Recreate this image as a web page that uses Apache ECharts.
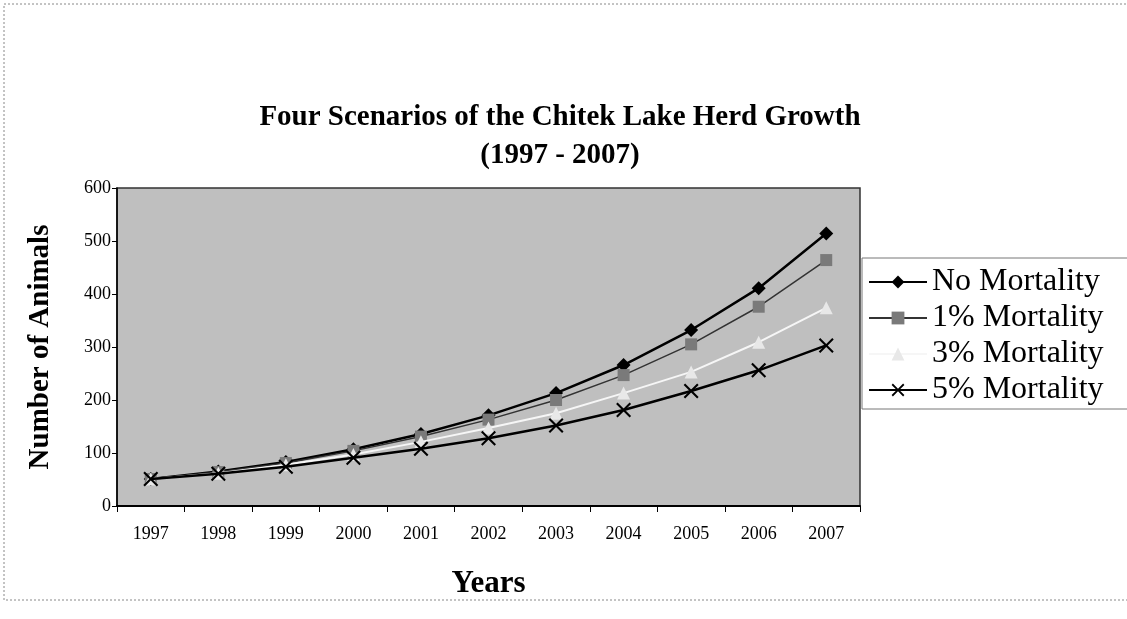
<!DOCTYPE html>
<html>
<head>
<meta charset="utf-8">
<script src="https://cdn.jsdelivr.net/npm/echarts@6/dist/echarts.min.js"></script>
<style>
html,body{margin:0;padding:0;background:#fff;}
#c{width:1127px;height:619px;}
</style>
</head>
<body>
<div id="c"></div>
<script>
const years = ['1997','1998','1999','2000','2001','2002','2003','2004','2005','2006','2007'];
const noMortality = [51, 65, 83, 107, 136, 171, 213, 266, 332, 411, 514];
const mortality1 = [51, 64, 81, 104, 131, 163, 200, 247, 305, 376, 464];
const mortality3 = [51, 62, 78, 97, 121, 147, 175, 213, 253, 309, 374];
const mortality5 = [51, 61, 74, 91, 108, 128, 152, 181, 217, 256, 303];
const seriesNames = ['No Mortality', '1% Mortality', '3% Mortality', '5% Mortality'];

const serif = '"Liberation Serif", "Times New Roman", serif';
const xMark = 'path://M0,1 L1,0 L5,4 L9,0 L10,1 L6,5 L10,9 L9,10 L5,6 L1,10 L0,9 L4,5 Z';

const chart = echarts.init(document.getElementById('c'), null, {renderer: 'canvas'});
chart.setOption({
  backgroundColor: '#fff',
  animation: false,
  title: {
    text: 'Four Scenarios of the Chitek Lake Herd Growth\n(1997 - 2007)',
    left: 555, top: 94, textAlign: 'center',
    textStyle: {fontFamily: serif, fontWeight: 'bold', fontSize: 29, lineHeight: 38, color: '#000'}
  },
  legend: {
    orient: 'vertical',
    left: 862, top: 258,
    data: seriesNames,
    itemWidth: 58, itemHeight: 16, itemGap: 4,
    padding: [8, 40, 3, 6],
    borderColor: '#777', borderWidth: 1,
    backgroundColor: '#fff',
    textStyle: {fontFamily: serif, fontSize: 32, color: '#000'}
  },
  grid: {
    left: 117, right: 267, top: 188, bottom: 113,
    show: true, backgroundColor: '#bfbfbf', borderColor: '#333', borderWidth: 1.5
  },
  xAxis: {
    type: 'category', data: years, boundaryGap: true,
    name: 'Years', nameLocation: 'middle', nameGap: 62,
    nameTextStyle: {fontFamily: serif, fontWeight: 'bold', fontSize: 31, color: '#000'},
    axisLine: {lineStyle: {color: '#000', width: 2}},
    axisTick: {show: true, inside: false, length: 6, alignWithLabel: false, lineStyle: {color: '#000'}},
    axisLabel: {fontFamily: serif, fontSize: 18, color: '#000', margin: 19}
  },
  yAxis: {
    type: 'value', min: 0, max: 600, interval: 100,
    name: 'Number of Animals', nameLocation: 'middle', nameGap: 62, nameRotate: 90,
    nameTextStyle: {fontFamily: serif, fontWeight: 'bold', fontSize: 29, color: '#000'},
    axisLine: {show: true, lineStyle: {color: '#000', width: 1.5}},
    axisTick: {show: true, length: 5, lineStyle: {color: '#000'}},
    splitLine: {show: false},
    axisLabel: {fontFamily: serif, fontSize: 18, color: '#000', margin: 6}
  },
  series: [
    {name: seriesNames[0], type: 'line', data: noMortality, symbol: 'diamond', symbolSize: 14,
     lineStyle: {color: '#000', width: 2.5}, itemStyle: {color: '#000'}, z: 2},
    {name: seriesNames[1], type: 'line', data: mortality1, symbol: 'rect', symbolSize: 12,
     lineStyle: {color: '#333', width: 1.5}, itemStyle: {color: '#7a7a7a'}, z: 3},
    {name: seriesNames[2], type: 'line', data: mortality3, symbol: 'triangle', symbolSize: 13,
     lineStyle: {color: '#f6f6f6', width: 2}, itemStyle: {color: '#e8e8e8'}, z: 4},
    {name: seriesNames[3], type: 'line', data: mortality5, symbol: xMark, symbolSize: 15,
     lineStyle: {color: '#000', width: 2.5}, itemStyle: {color: '#000'}, z: 5}
  ],
  graphic: [
    {type: 'rect', shape: {x: 4, y: 4, width: 1140, height: 596},
     style: {fill: 'none', stroke: '#888', lineWidth: 1, lineDash: [2, 2]}, silent: true, z: -1}
  ]
});
</script>
</body>
</html>
